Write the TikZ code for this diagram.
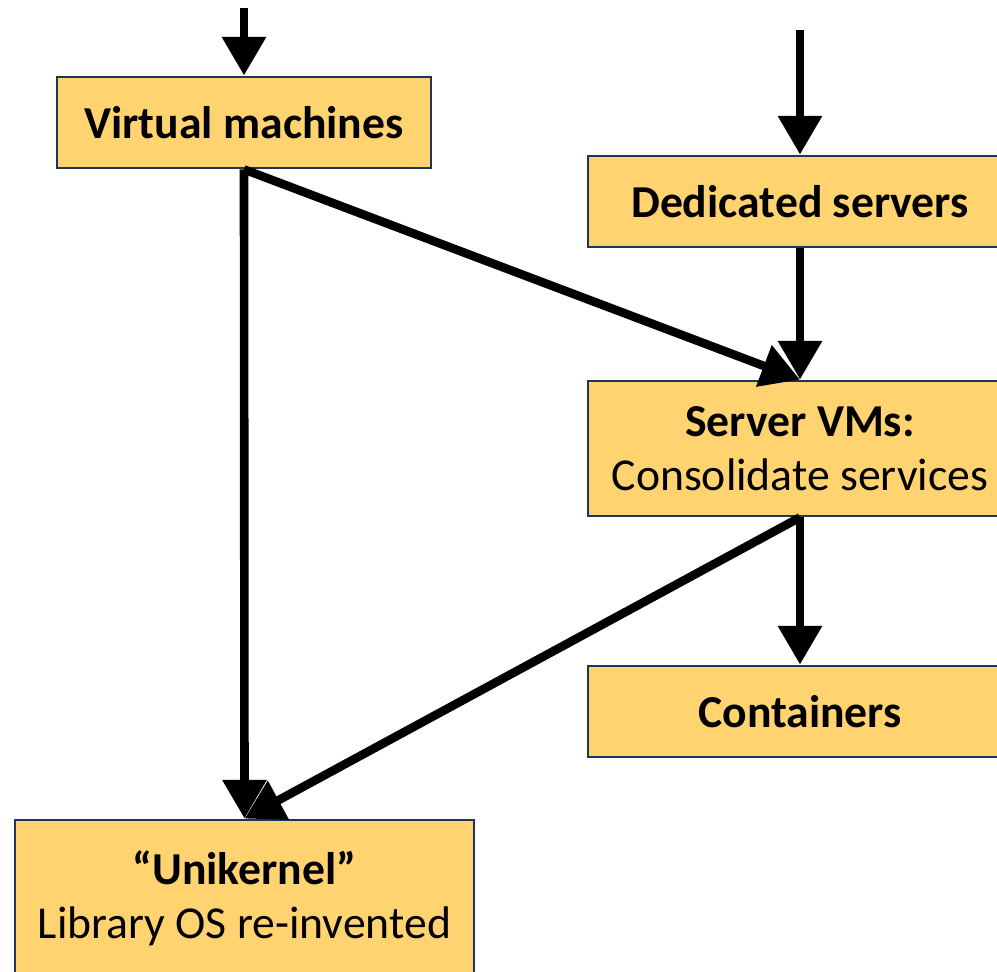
\documentclass[tikz,border=0pt]{standalone}
\usepackage{fontspec}
\setmainfont{Carlito}
\usepackage{xcolor}
\usepackage{tikz}
\usetikzlibrary{arrows.meta}
\definecolor{boxfill}{RGB}{255,211,112}
\definecolor{boxline}{RGB}{31,52,90}
\tikzset{>={Triangle[width=24pt,length=22pt]}}

\begin{document}
\begin{tikzpicture}[line cap=butt,line join=miter,x=0.02cm,y=-0.02cm,
	box/.style={draw=boxline,line width=1.6pt,fill=boxfill,align=center,inner sep=0pt,
		font=\fontsize{26}{31}\selectfont},
	flow/.style={->,line width=4.9pt,color=black}]
	\useasboundingbox (0,0) rectangle (997,972);
	% boxes
	\node[box,minimum width=7.48cm,minimum height=1.82cm] (vm) at (244,122.5) {\textbf{Virtual machines}};
	\node[box,minimum width=8.48cm,minimum height=1.82cm] (ds) at (800,201.5) {\textbf{Dedicated servers}};
	\node[box,minimum width=8.48cm,minimum height=2.7cm] (svm) at (800,448.5) {\textbf{Server VMs:}\\Consolidate services};
	\node[box,minimum width=8.48cm,minimum height=1.82cm] (ct) at (800,711.5) {\textbf{Containers}};
	\node[box,minimum width=9.18cm,minimum height=3.14cm] (uk) at (244.5,898.5) {\textbf{``Unikernel''}\\Library OS re-invented};
	% free ends of the incoming arrows
	\coordinate (vmin) at (244,8);
	\coordinate (dsin) at (800,30);
	% connectors
	\draw[flow] (vmin) -- (vm.north);
	\draw[flow] (dsin) -- (ds.north);
	\draw[flow] (vm.south) -- (uk.north);
	\draw[flow] (vm.south) -- (svm.north);
	\draw[flow] (ds.south) -- (svm.north);
	\draw[flow] (svm.south) -- (ct.north);
	\draw[flow] (svm.south) -- (uk.north);
\end{tikzpicture}
\end{document}
